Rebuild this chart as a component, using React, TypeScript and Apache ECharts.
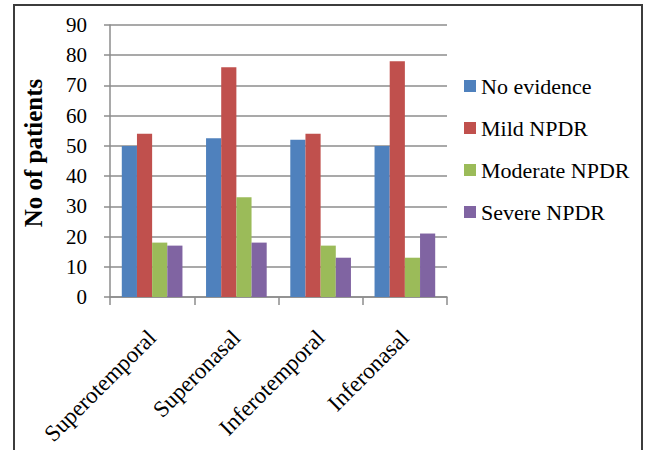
import React, { useEffect, useRef } from "react";
import * as echarts from "echarts";

// Retinal quadrants and patient counts per retinopathy grade
const quadrants = ["Superotemporal", "Superonasal", "Inferotemporal", "Inferonasal"];
const noEvidence = [50, 52.5, 52, 50];
const mildNPDR = [54, 76, 54, 78];
const moderateNPDR = [18, 33, 17, 13];
const severeNPDR = [17, 18, 13, 21];
const yTicks = { min: 0, max: 90, interval: 10 };

const seriesDefs = [
  { name: "No evidence", data: noEvidence, color: "#4F81BD" },
  { name: "Mild NPDR", data: mildNPDR, color: "#C0504D" },
  { name: "Moderate NPDR", data: moderateNPDR, color: "#9BBB59" },
  { name: "Severe NPDR", data: severeNPDR, color: "#8064A2" },
];

const FONT = "Liberation Serif";
const GRID_GREY = "#8c8c8c";

export default function App() {
  const ref = useRef<HTMLDivElement>(null);

  useEffect(() => {
    if (!ref.current) return;
    const chart = echarts.init(ref.current, undefined, { renderer: "svg" });
    chart.setOption({
      animation: false,
      backgroundColor: "#ffffff",
      textStyle: { fontFamily: FONT },
      graphic: [
        {
          type: "rect",
          shape: { x: 14, y: 5, width: 628, height: 470 },
          style: { fill: "none", stroke: "#3c3c3c", lineWidth: 2 },
          silent: true,
        },
      ],
      grid: { left: 110, top: 25, right: 203, bottom: 153, containLabel: false },
      legend: {
        orient: "vertical",
        left: 459,
        top: 70,
        icon: "rect",
        itemWidth: 12,
        itemHeight: 12,
        itemGap: 20,
        textStyle: { fontFamily: FONT, fontSize: 22, color: "#000", lineHeight: 22 },
        data: seriesDefs.map((s) => s.name),
      },
      xAxis: {
        type: "category",
        data: quadrants,
        boundaryGap: true,
        axisLine: { lineStyle: { color: GRID_GREY, width: 1.5 } },
        axisTick: { show: true, alignWithLabel: false, length: 8, lineStyle: { color: GRID_GREY, width: 1.5 } },
        axisLabel: {
          rotate: 45,
          interval: 0,
          margin: 37,
          fontFamily: FONT,
          fontSize: 23,
          color: "#000",
        },
      },
      yAxis: {
        type: "value",
        min: yTicks.min,
        max: yTicks.max,
        interval: yTicks.interval,
        name: "No of patients",
        nameLocation: "middle",
        nameGap: 64,
        nameTextStyle: {
          fontFamily: FONT,
          fontSize: 25,
          fontWeight: "bold",
          color: "#000",
          padding: [0, 0, 0, 16],
        },
        axisLine: { show: true, lineStyle: { color: GRID_GREY, width: 1.5 } },
        axisTick: { show: true, length: 6, lineStyle: { color: GRID_GREY, width: 1.5 } },
        splitLine: { show: true, lineStyle: { color: GRID_GREY, width: 1.5 } },
        axisLabel: { margin: 23, fontFamily: FONT, fontSize: 21, color: "#000" },
      },
      series: seriesDefs.map((s) => ({
        name: s.name,
        type: "bar",
        data: s.data,
        barGap: "0%",
        barCategoryGap: "28%",
        itemStyle: { color: s.color },
      })),
    });
    return () => chart.dispose();
  }, []);

  return (
    <div
      ref={ref}
      style={{ position: "fixed", left: 0, top: 0, width: 650, height: 450 }}
    />
  );
}
